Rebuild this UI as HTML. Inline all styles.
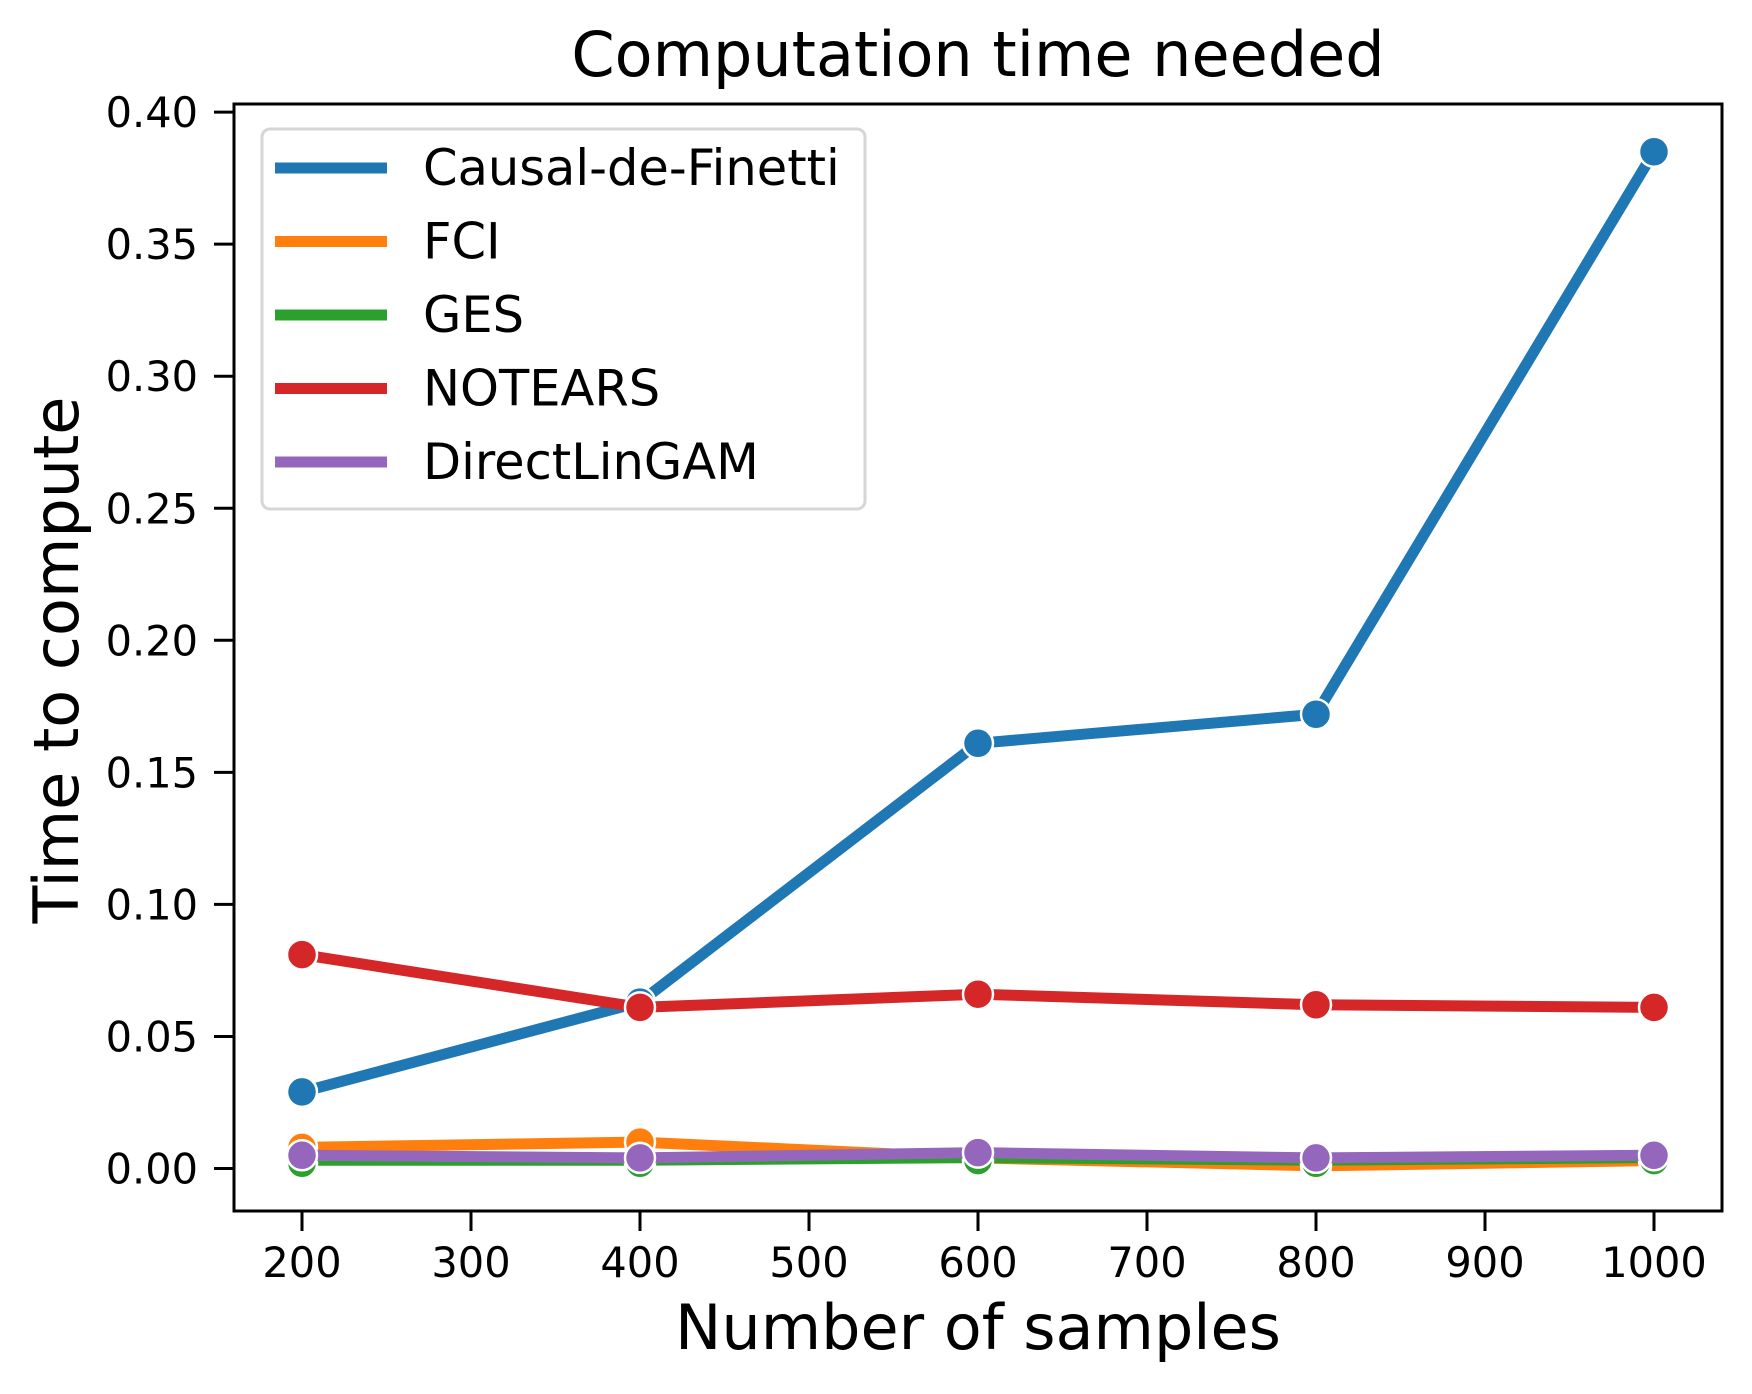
<!DOCTYPE html>
<html><head><meta charset="utf-8"><style>
body{margin:0;background:#fff}
svg{display:block;font-family:"DejaVu Sans","Liberation Sans",sans-serif}
</style></head><body>
<svg id="chart" width="1752" height="1394" viewBox="0 0 1752 1394">
<rect width="1752" height="1394" fill="#fff"/>
<text x="978" y="76" font-size="62" text-anchor="middle">Computation time needed</text>
<g id="grid"></g>
<g id="series"></g>
<rect x="234" y="104" width="1488" height="1107" fill="none" stroke="#000" stroke-width="3"/>
<g id="legend"></g>
<text x="978" y="1349" font-size="62" text-anchor="middle">Number of samples</text>
<text transform="translate(78,660) rotate(-90)" font-size="62" text-anchor="middle">Time to compute</text>
</svg>
<script>
const samples=[200,400,600,800,1000];
const causalDeFinetti=[0.029,0.063,0.161,0.172,0.385];
const fci=[0.008,0.010,0.004,0.001,0.003];
const ges=[0.002,0.002,0.003,0.002,0.003];
const notears=[0.081,0.061,0.066,0.062,0.061];
const directLinGAM=[0.005,0.004,0.006,0.004,0.005];
const xTicks=[200,300,400,500,600,700,800,900,1000];
const yTicks=[0,0.05,0.10,0.15,0.20,0.25,0.30,0.35,0.40];
const seriesNames=["Causal-de-Finetti","FCI","GES","NOTEARS","DirectLinGAM"];
const NS="http://www.w3.org/2000/svg";
function X(v){return 302+(v-200)*1.69;}
function Y(v){return 1168.5-v*2641;}
function mk(t,a,p){const e=document.createElementNS(NS,t);for(const k in a)e.setAttribute(k,a[k]);p.appendChild(e);return e;}
const g=document.getElementById('grid');
xTicks.forEach(v=>{
 const l=mk('line',{x1:X(v),x2:X(v),y1:1211,y2:1231,stroke:'#000','stroke-width':3},g);
 
 
 const t=mk('text',{x:X(v),y:1277,'font-size':41.5,'text-anchor':'middle'},g);t.textContent=v;
 
 
});
yTicks.forEach(v=>{
 const l=mk('line',{x1:214,x2:234,y1:Y(v),y2:Y(v),stroke:'#000','stroke-width':3},g);
 
 
 const t=mk('text',{x:198,y:Y(v)+15,'font-size':41.5,'text-anchor':'end'},g);t.textContent=v.toFixed(2);
 
 
});
const data=[causalDeFinetti,fci,ges,notears,directLinGAM];
const colors=["#1f77b4","#ff7f0e","#2ca02c","#d62728","#9467bd"];
const widths=[11,11,5,11,11];
const s=document.getElementById('series');
data.forEach((arr,i)=>{
 const grp=mk('g',{},s);
 
 
 const pts=arr.map((v,j)=>X(samples[j])+','+Y(v)).join(' ');
 const pl=mk('polyline',{points:pts,fill:'none',stroke:colors[i],'stroke-width':widths[i],'stroke-linejoin':'round'},grp);
 
 
 arr.forEach((v,j)=>{
  const c=mk('circle',{cx:X(samples[j]),cy:Y(v),r:15,fill:colors[i],stroke:'#fff','stroke-width':2.5},grp);
  
  
 });
});
const lg=document.getElementById('legend');
mk('rect',{x:262,y:129,width:603,height:380,rx:8,fill:'#fff','fill-opacity':0.8,stroke:'#d6d6d6','stroke-width':3},lg);
seriesNames.forEach((n,i)=>{
 const y=168+i*73.5;
 const l=mk('line',{x1:275,x2:387,y1:y,y2:y,stroke:colors[i],'stroke-width':11},lg);
 
 
 const t=mk('text',{x:423,y:y+17,'font-size':49.5},lg);t.textContent=n;
 
 
});
</script>
</body></html>
